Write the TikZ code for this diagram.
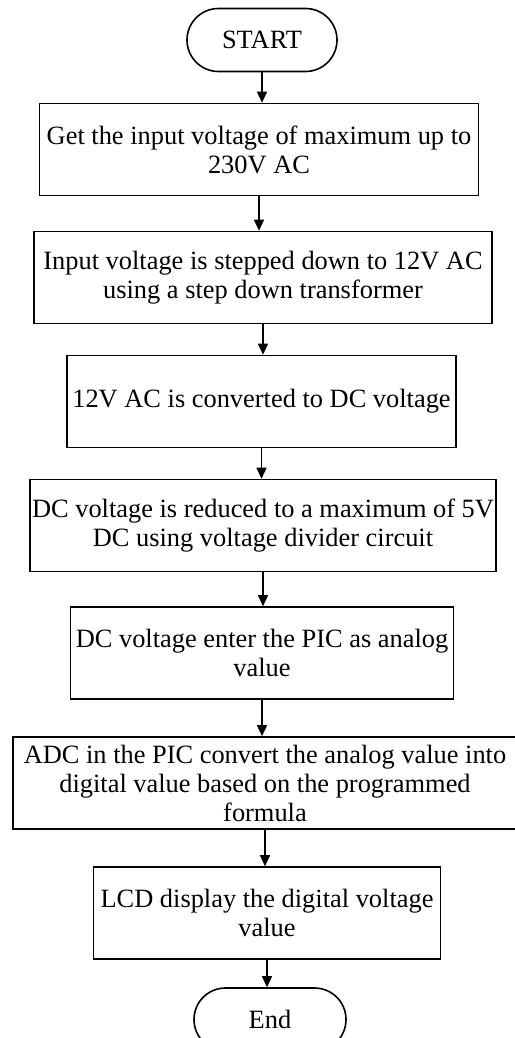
\documentclass[tikz,border=0pt]{standalone}
\usepackage{fontspec}
\setmainfont{Liberation Serif}
\usetikzlibrary{arrows.meta}
\usetikzlibrary{shapes.misc}
\newcommand{\heightbox}{46pt}
\newcommand{\heightterm}{31.5pt}
\newcommand{\widthterm}{77pt}
\tikzset{
    common/.style={draw, line width=0.8pt, align=center, inner sep=1pt, font=\fontsize{13.2}{14.5}\selectfont},
    stepbox/.style={common, rectangle, minimum height=\heightbox},
    terminal/.style={common, rounded rectangle, minimum height=\heightterm, minimum width=\widthterm},
    flow/.style={-{Triangle[length=5.5pt, width=5pt]}, line width=0.7pt}
}
\begin{document}
\begin{tikzpicture}
    \useasboundingbox (0,0) rectangle (257pt,-519pt);
    \path
        node[terminal] (start) at (131pt,-20pt) {START}
        node[stepbox, minimum width=219.5pt] (input) at (129.5pt,-74.75pt) {Get the input voltage of maximum up to\\230V AC}
        node[stepbox, minimum width=229pt] (stepdown) at (131.5pt,-138.75pt) {Input voltage is stepped down to 12V AC\\using a step down transformer}
        node[stepbox, minimum width=194.5pt] (rectify) at (130.75pt,-200.75pt) {12V AC is converted to DC voltage}
        node[stepbox, minimum width=231pt] (divider) at (131.5pt,-262.75pt) {DC voltage is reduced to a maximum of 5V\\DC using voltage divider circuit}
        node[stepbox, minimum width=191.5pt] (pic) at (131pt,-326.5pt) {DC voltage enter the PIC as analog\\value}
        node[stepbox, minimum width=252pt] (adc) at (132.5pt,-391.5pt) {ADC in the PIC convert the analog value into\\digital value based on the programmed\\formula}
        node[stepbox, minimum width=173.5pt] (lcd) at (133.5pt,-456.5pt) {LCD display the digital voltage\\value}
        node[terminal, minimum width=78pt] (end) at (135pt,-509.75pt) {End};

    \foreach \from/\to in {start/input, input/stepdown, stepdown/rectify, rectify/divider, divider/pic, pic/adc, adc/lcd, lcd/end}
        \draw[flow] (\from.south) -- (\from.south |- \to.north);
\end{tikzpicture}
\end{document}
